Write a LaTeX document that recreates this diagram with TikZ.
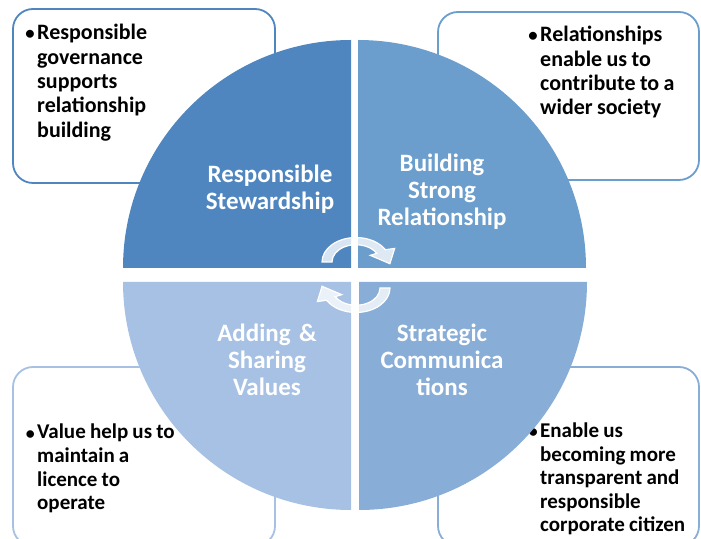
\documentclass[tikz,border=0pt]{standalone}
\usepackage{fontspec}
\setmainfont{Carlito}
\usepackage{tikz}
\definecolor{quadA}{HTML}{4F86C0}
\definecolor{quadB}{HTML}{6B9DCD}
\definecolor{quadC}{HTML}{88ADD7}
\definecolor{quadD}{HTML}{A6C1E3}
\tikzset{x = 1pt, y = 1pt}
\tikzset{infobox/.style = { rounded corners = 20pt, line width = 1.8pt, fill = white }}
\tikzset{infotext/.style = { anchor = base west, align = left, text width = 175pt, inner sep = 0pt, font = \bfseries\fontsize{22}{24.3}\selectfont }}
\tikzset{quadlabel/.style = { anchor = base, align = center, text width = 160pt, inner sep = 0pt, text = white, font = \bfseries\fontsize{25}{27}\selectfont }}
\tikzset{cyclearrow/.style = { fill = white, fill opacity = 0.78, draw = white, line width = 1.2pt }}
\newcommand{\bul}{\spaceskip 0.2em\relax\llap{\scalebox{0.85}{\textbullet}\hspace{2.5pt}}}

\begin{document}
\begin{tikzpicture}
					\useasboundingbox (0, 0) rectangle (701, 538);
					
					% Boxes.
					\draw [infobox, draw = quadA] (13, 355) rectangle (275, 529);
					\draw [infobox, draw = quadB] (438, 358) rectangle (699, 526);
					\draw [infobox, draw = quadD] (13, -8) rectangle (275, 171);
					\draw [infobox, draw = quadC] (438, -8) rectangle (699, 171);
					
					\node [infotext] (noteTL) at (37, 498) {\bul Responsible\\ governance\\ supports\\ relationship\\ building};
					\node [infotext] (noteTR) at (540, 496) {\bul Relationships\\ enable us to\\ contribute to a\\ wider society};
					\node [infotext, font = \bfseries\fontsize{21}{23.6}\selectfont] (noteBL) at (37, 99) {\bul Value help us to\\ maintain a\\ licence to\\ operate};
					\node [infotext, font = \bfseries\fontsize{21}{23.4}\selectfont] (noteBR) at (540, 100) {\bul Enable us\\ becoming more\\ transparent and\\ responsible\\ corporate citizen};
					
					% Quadrants.
					\fill [quadA] (351, 270)
						to (351, 498)
						arc [start angle = 90, end angle = 180, radius = 228]
						to cycle;
					\fill [quadB] (358, 270)
						to (586, 270)
						arc [start angle = 0, end angle = 90, radius = 228]
						to cycle;
					\fill [quadD] (351, 256)
						to (123, 256)
						arc [start angle = 180, end angle = 270, radius = 228]
						to cycle;
					\fill [quadC] (359, 256)
						to (359, 28)
						arc [start angle = 270, end angle = 360, radius = 228]
						to cycle;
					
					\node [quadlabel] (labelTL) at (270, 355) {Responsible\\ Stewardship};
					\node [quadlabel] (labelTR) at (442, 366) {Building\\ Strong\\ Relationship};
					\node [quadlabel] (labelBL) at (267, 196) {Adding \&\\ Sharing\\ Values};
					\node [quadlabel] (labelBR) at (442, 196) {Strategic\\ Communica\\ tions};
					
					% Cycle arrows.
					\begin{scope}[shift = {(356, 276)}, yscale = 0.72]
						\draw [cyclearrow] (180:34)
							arc [start angle = 180, end angle = 30, radius = 34]
							to (26:43)
							to (-4:34)
							to (33:17)
							to (30:24)
							arc [start angle = 30, end angle = 180, radius = 24]
							to cycle;
					\end{scope}
					\begin{scope}[shift = {(356, 250)}, yscale = 0.72, rotate = 180]
						\draw [cyclearrow] (180:34)
							arc [start angle = 180, end angle = 30, radius = 34]
							to (26:43)
							to (-4:34)
							to (33:17)
							to (30:24)
							arc [start angle = 30, end angle = 180, radius = 24]
							to cycle;
					\end{scope}
				\end{tikzpicture}
\end{document}
